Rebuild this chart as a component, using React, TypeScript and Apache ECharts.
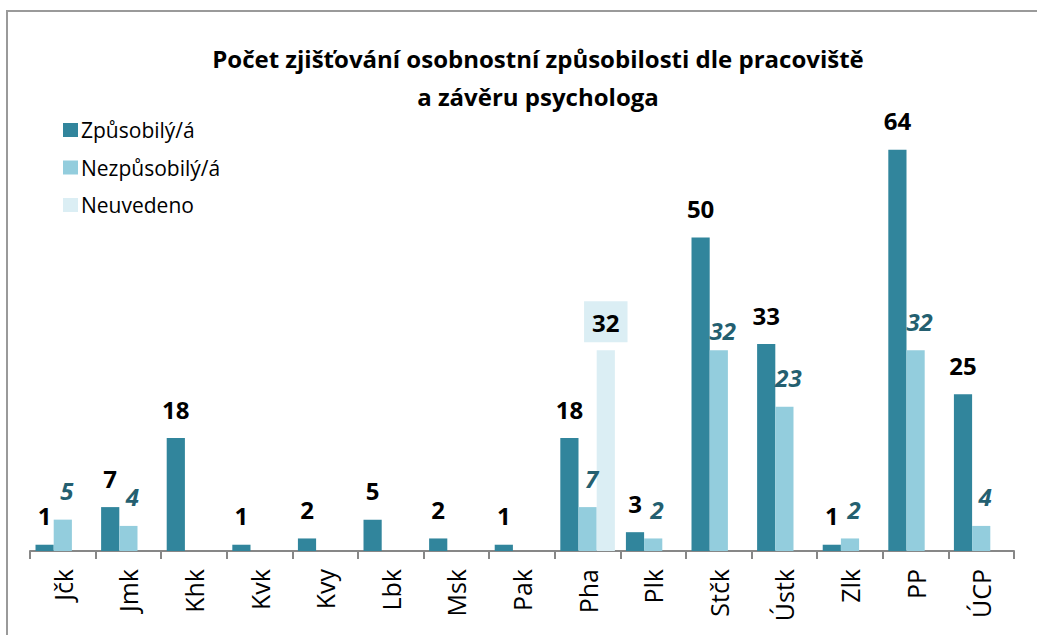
import React, { useEffect, useRef } from "react";
import * as echarts from "echarts";

const categories = ["Jčk", "Jmk", "Khk", "Kvk", "Kvy", "Lbk", "Msk", "Pak", "Pha", "Plk", "Stčk", "Ústk", "Zlk", "PP", "ÚCP"];
const zpusobily = [1, 7, 18, 1, 2, 5, 2, 1, 18, 3, 50, 33, 1, 64, 25];
const nezpusobily = [5, 4, null, null, null, null, null, null, 7, 2, 32, 23, 2, 32, 4];
const neuvedeno = [null, null, null, null, null, null, null, null, 32, null, null, null, null, null, null];

const FONT = "'Open Sans', 'Noto Sans', sans-serif";

export default function App() {
  const ref = useRef<HTMLDivElement>(null);
  useEffect(() => {
    const chart = echarts.init(ref.current!, null, { renderer: "svg" });
    const lightData = nezpusobily.map((v, i) =>
      categories[i] === "Stčk" ? { value: v, label: { distance: 8 } } : v
    );
    chart.setOption({
      animation: false,
      backgroundColor: "#ffffff",
      textStyle: { fontFamily: FONT },
      graphic: [
        {
          type: "rect",
          shape: { x: 7, y: 11, width: 1045, height: 640 },
          style: { fill: "none", stroke: "#9a9a9a", lineWidth: 2 },
          silent: true,
        },
        {
          type: "text",
          x: 538,
          y: 58,
          style: {
            text: "Počet zjišťování osobnostní způsobilosti dle pracoviště",
            fontFamily: FONT,
            fontWeight: "bold",
            fontSize: 24,
            fill: "#000",
            align: "center",
            verticalAlign: "middle",
          },
        },
        {
          type: "text",
          x: 538,
          y: 96,
          style: {
            text: "a závěru psychologa",
            fontFamily: FONT,
            fontWeight: "bold",
            fontSize: 24,
            fill: "#000",
            align: "center",
            verticalAlign: "middle",
          },
        },
      ],
      legend: {
        orient: "vertical",
        left: 63,
        top: 119.5,
        padding: 0,
        itemWidth: 15,
        itemHeight: 14,
        itemGap: 16.5,
        icon: "rect",
        textStyle: { fontFamily: FONT, fontSize: 21, lineHeight: 21, color: "#000", padding: [0, 0, 0, -2] },
        data: ["Způsobilý/á", "Nezpůsobilý/á", "Neuvedeno"],
      },
      grid: { left: 30, right: 23, top: 112, bottom: 84 },
      xAxis: {
        type: "category",
        data: categories,
        axisLine: { lineStyle: { color: "#878787", width: 2 } },
        axisTick: { show: true, length: 8, interval: 0, lineStyle: { color: "#878787", width: 2 } },
        axisLabel: {
          interval: 0,
          rotate: 90,
          margin: 18,
          fontFamily: FONT,
          fontSize: 25,
          color: "#000",
        },
      },
      yAxis: {
        type: "value",
        min: 0,
        max: 70,
        show: false,
        splitLine: { show: false },
      },
      series: [
        {
          name: "Způsobilý/á",
          type: "bar",
          data: zpusobily,
          barGap: "0%",
          barCategoryGap: "16.8%",
          itemStyle: { color: "#31859C" },
          label: {
            show: true,
            position: "top",
            distance: 17,
            fontFamily: FONT,
            fontWeight: "bold",
            fontSize: 24,
            color: "#000",
          },
        },
        {
          name: "Nezpůsobilý/á",
          type: "bar",
          data: lightData,
          itemStyle: { color: "#93CDDD" },
          label: {
            show: true,
            position: "top",
            distance: 17,
            offset: [4, 0],
            fontFamily: FONT,
            fontWeight: "bold",
            fontStyle: "italic",
            fontSize: 24,
            color: "#245F70",
          },
        },
        {
          name: "Neuvedeno",
          type: "bar",
          data: neuvedeno,
          itemStyle: { color: "#DBEEF4" },
          label: {
            show: true,
            position: "top",
            distance: 8,
            fontFamily: FONT,
            fontWeight: "bold",
            fontSize: 24,
            lineHeight: 24,
            color: "#000",
            backgroundColor: "#DBEEF4",
            padding: [9, 8, 8, 8],
          },
        },
      ],
    });
    return () => chart.dispose();
  }, []);
  return (
    <div
      ref={ref}
      style={{ position: "absolute", left: 0, top: 0, width: 1037, height: 635, background: "#fff" }}
    />
  );
}
